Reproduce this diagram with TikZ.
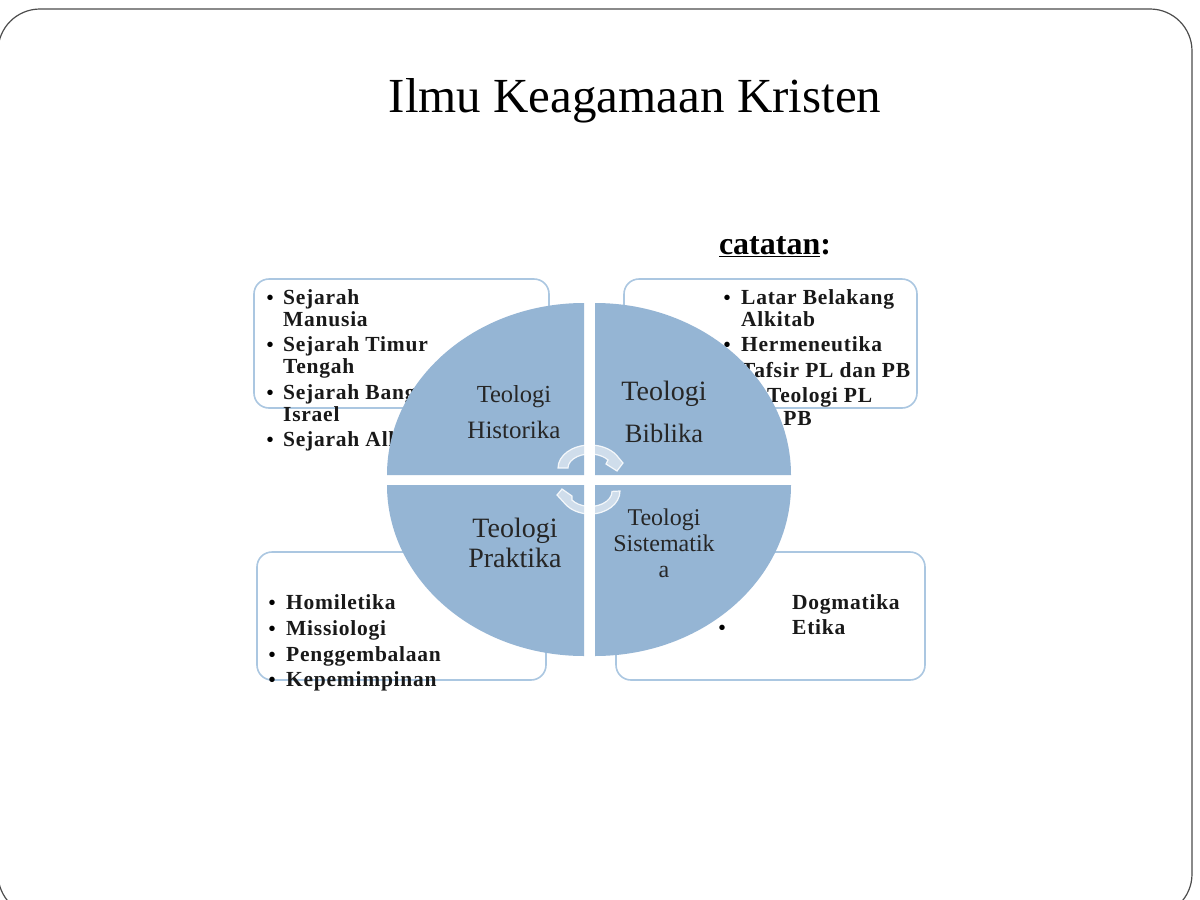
\documentclass[tikz,border=0pt]{standalone}
\usepackage{fontspec}
\setmainfont{Liberation Serif}
\newfontfamily\listfont[LetterSpace=3.5]{Liberation Serif}
\definecolor{pie}{HTML}{95B5D4}
\definecolor{edge}{HTML}{ABC7E1}
\tikzset{
  x=1pt,y=-1pt,
  box/.style={draw=edge,line width=1.6pt,fill=white,rounded corners=15pt},
  quarter/.style={fill=pie,draw=none},
  item/.style={anchor=base west,inner sep=0pt,font=\fontsize{21.5}{21.5}\listfont\bfseries,text=black!90},
  bul/.style={anchor=base,inner sep=0pt,font=\fontsize{20}{20}\selectfont\bfseries,text=black},
  pielabel/.style={anchor=base,inner sep=0pt,text=black!85},
  curved/.style={fill=white,fill opacity=0.55,draw=white,draw opacity=0.85,line width=1.2pt,line join=miter}
}
\begin{document}
\begin{tikzpicture}
\useasboundingbox (0,0) rectangle (1200,900);
\fill[white] (0,0) rectangle (1200,900);
\draw[line width=1.2pt,black!70,rounded corners=42pt] (-2,9) rectangle (1192,916);
\node[anchor=base,inner sep=0pt,font=\fontsize{49}{49}\selectfont] (title) at (635,112) {Ilmu Keagamaan Kristen};
\node[anchor=base,inner sep=0pt,font=\fontsize{32}{32}\selectfont\bfseries] (note) at (775,254) {\underline{catatan}:};
\draw[box] (254,279) rectangle (549,408);
\draw[box] (624,279) rectangle (917,408);
\draw[box] (257,552) rectangle (546,680);
\draw[box] (616,552) rectangle (925,680);
% top-left list
\node[bul] at (270,304) {•};
\node[item] at (283,304) {Sejarah};
\node[item] at (283,326) {Manusia};
\node[bul] at (270,351) {•};
\node[item] at (283,351) {Sejarah Timur};
\node[item] at (283,373) {Tengah};
\node[bul] at (270,399) {•};
\node[item] at (283,399) {Sejarah Bangsa};
\node[item] at (283,421) {Israel};
\node[bul] at (270,446) {•};
\node[item] at (283,446) {Sejarah Alkitab};
% top-right list
\node[bul] at (727,304) {•};
\node[item] at (741,304) {Latar Belakang};
\node[item] at (741,326) {Alkitab};
\node[bul] at (727,351) {•};
\node[item] at (741,351) {Hermeneutika};
\node[item] at (741,377) {Tafsir PL dan PB};
\node[item] at (767,402) {Teologi PL};
\node[item] at (741,425) {dan PB};
% bottom-left list
\node[bul] at (272,609) {•};
\node[item] at (286,609) {Homiletika};
\node[bul] at (272,635) {•};
\node[item] at (286,635) {Missiologi};
\node[bul] at (272,661) {•};
\node[item] at (286,661) {Penggembalaan};
\node[bul] at (272,686) {•};
\node[item] at (286,686) {Kepemimpinan};
% bottom-right list
\node[bul] at (722,634) {•};
\node[item] at (792,609) {Dogmatika};
\node[item] at (792,634) {Etika};
% pie
\fill[quarter] (584,475) -- (387,475) arc[start angle=180,end angle=270,x radius=197,y radius=172] -- cycle;
\fill[quarter] (595,475) -- (595,303) arc[start angle=270,end angle=360,x radius=196,y radius=172] -- cycle;
\fill[quarter] (584,485) -- (584,656) arc[start angle=90,end angle=180,x radius=197,y radius=171] -- cycle;
\fill[quarter] (595,485) -- (791,485) arc[start angle=0,end angle=90,x radius=196,y radius=171] -- cycle;
% labels
\node[pielabel,font=\fontsize{24.5}{24.5}\selectfont] (h1) at (514,402) {Teologi};
\node[pielabel,font=\fontsize{25}{25}\selectfont] (h2) at (514,438) {Historika};
\node[pielabel,font=\fontsize{28}{28}\selectfont] (b1) at (664,400) {Teologi};
\node[pielabel,font=\fontsize{26.5}{26.5}\selectfont] (b2) at (664,442) {Biblika};
\node[pielabel,font=\fontsize{28}{28}\selectfont] (p1) at (515,537) {Teologi};
\node[pielabel,font=\fontsize{28}{28}\selectfont] (p2) at (515,567) {Praktika};
\node[pielabel,font=\fontsize{24}{24}\selectfont] (s1) at (664,525) {Teologi};
\node[pielabel,font=\fontsize{24}{24}\selectfont] (s2) at (664,551) {Sistematik};
\node[pielabel,font=\fontsize{24}{24}\selectfont] (s3) at (664,577) {a};
% circular arrows
\path[curved] (558,468) arc[start angle=180,end angle=325,x radius=32,y radius=23]
  -- (623,463) -- (617,471) -- (606,464) -- (608,460)
  arc[start angle=325,end angle=180,x radius=22,y radius=14] -- cycle;
\path[curved] (620,491) arc[start angle=0,end angle=145,x radius=30,y radius=23]
  -- (557,495) -- (562,489) -- (572,496) -- (572,500)
  arc[start angle=145,end angle=0,x radius=22,y radius=15] -- cycle;
\end{tikzpicture}
\end{document}
